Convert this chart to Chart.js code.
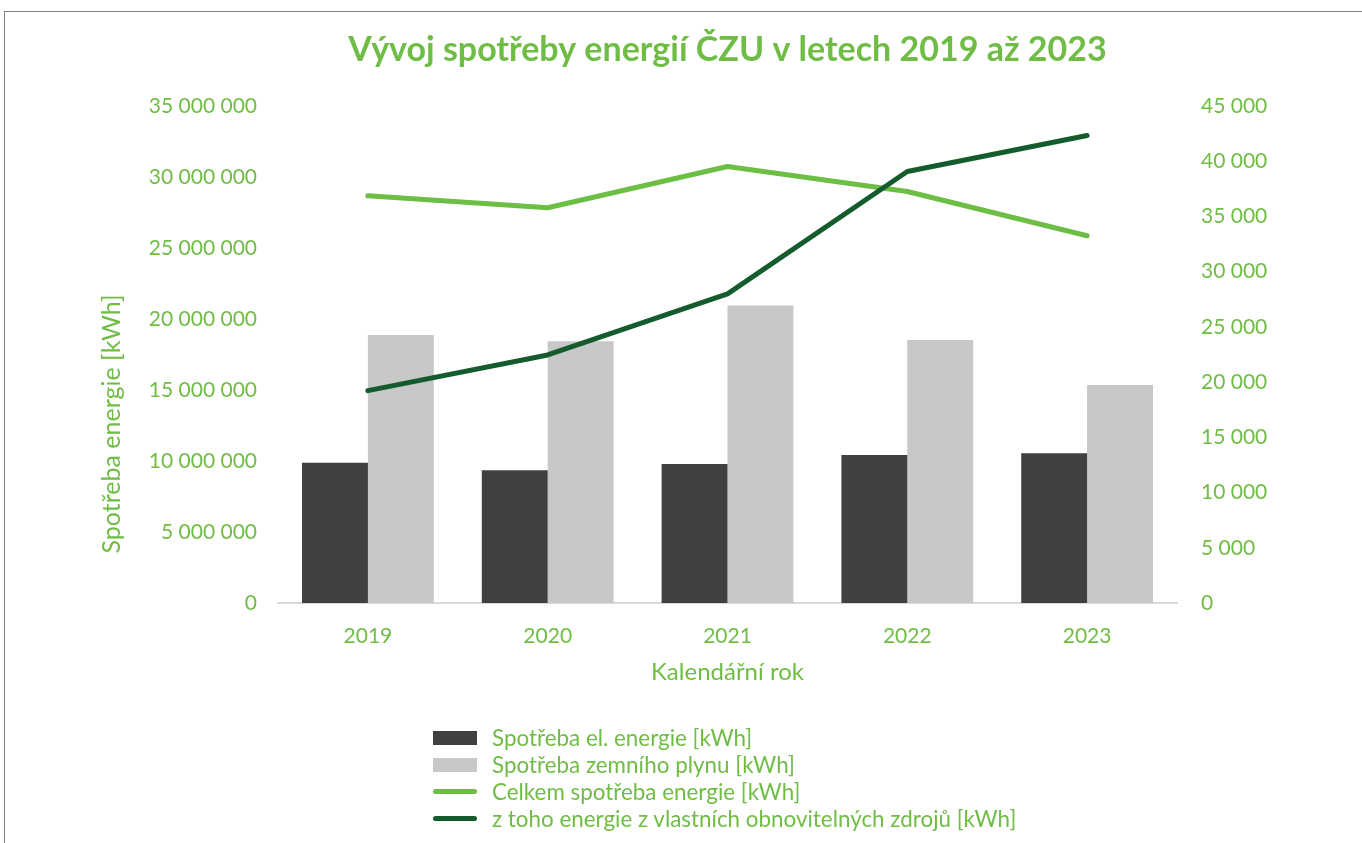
<!DOCTYPE html>
<html lang="cs">
<head>
<meta charset="utf-8">
<title>Vývoj spotřeby energií ČZU</title>
<script src="https://cdn.jsdelivr.net/npm/chart.js@4.4.1/dist/chart.umd.min.js"></script>
<style>
    html, body { margin: 0; padding: 0; background: #fff; }
    #wrap { position: relative; width: 1362px; height: 843px; overflow: hidden; }
    #frame { position: absolute; left: 4px; top: 11px; width: 1400px; height: 900px;
             border-top: 1px solid #808080; border-left: 1px solid #808080; }
    #energyChart { position: absolute; left: 0; top: 0; }
    #chartLegend { position: absolute; left: 433px; top: 724px;
                   font-family: Lato, sans-serif; font-size: 22.4px; color: #70bd45; }
    .legend-row { height: 27px; display: flex; align-items: center; white-space: nowrap; }
    .legend-box { width: 44px; height: 14px; margin-right: 15px; }
    .legend-line { width: 44px; height: 5px; border-radius: 3px; margin-right: 15px; }
</style>
</head>
<body>
<div id="wrap">
    <div id="frame"></div>
    <canvas id="energyChart" width="1362" height="843"></canvas>
    <div id="chartLegend"></div>
</div>
<script>
const years = ['2019', '2020', '2021', '2022', '2023'];
// kWh, left axis
const elEnergie = [9880000, 9350000, 9790000, 10420000, 10540000];
const zemniPlyn = [18870000, 18430000, 20940000, 18520000, 15350000];
const celkemEnergie = [28660000, 27820000, 30730000, 28970000, 25850000];
// kWh, right axis
const obnovitelneZdroje = [19220, 22450, 27980, 39050, 42310];

const green = '#70bd45';
const font = 'Lato';

function spaced(v) {
    return String(v).replace(/\B(?=(\d{3})+(?!\d))/g, ' ');
}

// y axis title sits lower than the plot middle in the original
const leftTitle = {
    id: 'leftTitle',
    afterDraw(chart) {
        const ctx = chart.ctx;
        ctx.save();
        ctx.translate(112, 424);
        ctx.rotate(-Math.PI / 2);
        ctx.font = '25px ' + font;
        ctx.fillStyle = green;
        ctx.textAlign = 'center';
        ctx.textBaseline = 'middle';
        ctx.fillText('Spotřeba energie [kWh]', 0, 0);
        ctx.restore();
    }
};

const ctx = document.getElementById('energyChart').getContext('2d');
const energyChart = new Chart(ctx, {
    data: {
        labels: years,
        datasets: [{
            type: 'bar',
            label: 'Spotřeba el. energie [kWh]',
            data: elEnergie,
            backgroundColor: '#404040',
            yAxisID: 'y',
            order: 2,
            categoryPercentage: 0.733,
            barPercentage: 1
        }, {
            type: 'bar',
            label: 'Spotřeba zemního plynu [kWh]',
            data: zemniPlyn,
            backgroundColor: '#c8c8c8',
            yAxisID: 'y',
            order: 2,
            categoryPercentage: 0.733,
            barPercentage: 1
        }, {
            type: 'line',
            label: 'Celkem spotřeba energie [kWh]',
            data: celkemEnergie,
            borderColor: '#6dbe44',
            backgroundColor: '#6dbe44',
            borderWidth: 5,
            pointRadius: 0,
            borderCapStyle: 'round',
            borderJoinStyle: 'round',
            yAxisID: 'y',
            order: 1
        }, {
            type: 'line',
            label: 'z toho energie z vlastních obnovitelných zdrojů [kWh]',
            data: obnovitelneZdroje,
            borderColor: '#145c2d',
            backgroundColor: '#145c2d',
            borderWidth: 5,
            pointRadius: 0,
            borderCapStyle: 'round',
            borderJoinStyle: 'round',
            yAxisID: 'y1',
            order: 0
        }]
    },
    options: {
        responsive: false,
        animation: false,
        devicePixelRatio: 1,
        layout: { padding: { left: 0, right: 0, top: 0, bottom: 140 } },
        plugins: {
            legend: { display: false },
            tooltip: { enabled: false },
            title: {
                display: true,
                fullSize: false,
                text: 'Vývoj spotřeby energií ČZU v letech 2019 až 2023',
                color: green,
                font: { family: font, size: 34, weight: 'bold' },
                padding: { top: 30, bottom: 35 }
            }
        },
        scales: {
            x: {
                grid: { display: false },
                border: { display: true, color: '#d9d9d9', width: 2 },
                ticks: { color: green, font: { family: font, size: 21 }, padding: 13 },
                title: {
                    display: true,
                    text: 'Kalendářní rok',
                    color: green,
                    font: { family: font, size: 24 },
                    padding: { top: 0, bottom: 16 }
                },
                afterFit(scale) { scale.height = 100; }
            },
            y: {
                position: 'left',
                min: 0,
                max: 35000000,
                grid: { display: false },
                border: { display: false },
                ticks: {
                    stepSize: 5000000,
                    color: green,
                    font: { family: font, size: 21 },
                    padding: 13,
                    callback: v => spaced(v)
                },
                afterFit(scale) { scale.width = 278; }
            },
            y1: {
                position: 'right',
                min: 0,
                max: 45000,
                grid: { display: false },
                border: { display: false },
                ticks: {
                    stepSize: 5000,
                    color: green,
                    font: { family: font, size: 21 },
                    padding: 16,
                    callback: v => spaced(v)
                },
                afterFit(scale) { scale.width = 185; }
            }
        }
    },
    plugins: [leftTitle]
});

// html legend, one item per row
const legendEl = document.getElementById('chartLegend');
let rows = [];
energyChart.data.datasets.forEach(ds => {
    const cls = ds.type === 'bar' ? 'legend-box' : 'legend-line';
    rows.push('<div class="legend-row"><span class="' + cls + '" style="background-color:' +
        ds.backgroundColor + '"></span><span>' + ds.label + '</span></div>');
});
legendEl.innerHTML = rows.join('');
</script>
</body>
</html>
